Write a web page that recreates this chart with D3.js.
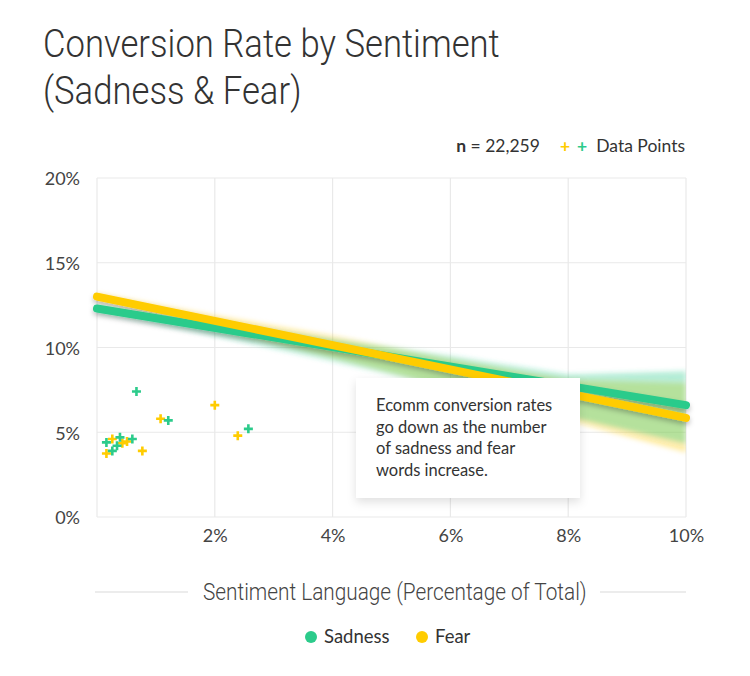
<!DOCTYPE html>
<html>
<head>
<meta charset="utf-8">
<script src="https://cdn.jsdelivr.net/npm/d3@7"></script>
<style>
  body { margin: 0; background: #fff; }
  text { font-family: Lato, "Noto Sans", sans-serif; fill: #333; }
  .grid line { stroke: #e9e9e9; stroke-width: 1.2; }
  .tick-label { font-size: 18px; fill: #444; }
</style>
</head>
<body>
<script>
// data
var xTicks = [2, 4, 6, 8, 10];
var yTicks = [0, 5, 10, 15, 20];

var sadnessPoints = [[0.67, 7.4], [1.21, 5.7], [2.57, 5.2], [0.16, 4.4], [0.39, 4.7], [0.60, 4.6], [0.34, 4.2], [0.26, 3.9]];
var fearPoints = [[2.0, 6.6], [1.08, 5.8], [2.39, 4.8], [0.26, 4.6], [0.51, 4.45], [0.43, 4.35], [0.16, 3.75], [0.77, 3.9]];

// trend lines (start / end)
var sadnessTrend = [[0, 12.3], [10, 6.6]];
var fearTrend = [[0, 13.0], [10, 5.85]];

// confidence bands: x, low, high
var sadnessBand = [[0, 12.1, 12.5], [2, 10.7, 11.5], [4, 9.2, 10.5], [6, 7.6, 9.5], [8, 5.9, 8.4], [10, 4.3, 8.6]];
var fearBand = [[0, 12.8, 13.2], [2, 11.1, 11.9], [4, 9.4, 10.7], [6, 7.6, 9.3], [8, 5.7, 8.1], [10, 3.8, 7.9]];

var colSad = "#2ccb8b", colFear = "#ffcc00";

var W = 750, H = 676;
var margin = {top: 178, left: 97, right: 64, bottom: 159};
var width = W - margin.left - margin.right,
    height = H - margin.top - margin.bottom;

var svg = d3.select("body").append("svg")
    .attr("width", W).attr("height", H);

var defs = svg.append("defs");
defs.append("clipPath").attr("id", "plotclip")
    .append("rect").attr("x", 0).attr("y", 0).attr("width", width).attr("height", height);
defs.append("filter").attr("id", "blur")
    .attr("x", "-10%").attr("y", "-50%").attr("width", "120%").attr("height", "200%")
    .append("feGaussianBlur").attr("stdDeviation", 2.5);
var sh = defs.append("filter").attr("id", "shadow")
    .attr("x", "-10%").attr("y", "-50%").attr("width", "120%").attr("height", "200%");
sh.append("feDropShadow").attr("dx", 0).attr("dy", 3).attr("stdDeviation", 2.5)
    .attr("flood-color", "#000").attr("flood-opacity", 0.25);
var boxSh = defs.append("filter").attr("id", "boxshadow")
    .attr("x", "-20%").attr("y", "-20%").attr("width", "140%").attr("height", "150%");
boxSh.append("feDropShadow").attr("dx", 0).attr("dy", 4).attr("stdDeviation", 5)
    .attr("flood-color", "#000").attr("flood-opacity", 0.12);

// title
var title = svg.append("g").attr("transform", "translate(43,0)");
var t1 = title.append("text").attr("x", 0).attr("y", 57)
    .style("font-family", "Roboto").style("font-weight", 300).style("font-size", "38px")
    .style("fill", "#333").text("Conversion Rate by Sentiment");
var t2 = title.append("text").attr("x", 0).attr("y", 104)
    .style("font-family", "Roboto").style("font-weight", 300).style("font-size", "38px")
    .style("fill", "#333").text("(Sadness & Fear)");
var k = 457 / t1.node().getComputedTextLength();
t1.attr("transform", "scale(" + k + ",1)");
t2.attr("transform", "scale(" + k + ",1)");

// n = ... header
var hdr = svg.append("text").attr("x", 685).attr("y", 152)
    .attr("text-anchor", "end").style("font-size", "17.5px");
hdr.append("tspan").style("font-weight", 700).text("n");
hdr.append("tspan").text(" = 22,259");
hdr.append("tspan").attr("dx", 20).style("fill", colFear).style("font-weight", 700).text("+");
hdr.append("tspan").attr("dx", 7).style("fill", colSad).style("font-weight", 700).text("+");
hdr.append("tspan").attr("dx", 9).text("Data Points");

var g = svg.append("g").attr("transform", "translate(" + margin.left + "," + margin.top + ")");

var x = d3.scaleLinear().domain([0, 10]).range([0, width]);
var y = d3.scaleLinear().domain([0, 20]).range([height, 0]);

// gridlines
var grid = g.append("g").attr("class", "grid");
grid.selectAll(".h").data(yTicks).enter().append("line")
    .attr("x1", 0).attr("x2", width)
    .attr("y1", d => y(d)).attr("y2", d => y(d));
grid.selectAll(".v").data([0].concat(xTicks)).enter().append("line")
    .attr("y1", 0).attr("y2", height)
    .attr("x1", d => x(d)).attr("x2", d => x(d));

// axes (labels only)
var yAxis = g.append("g").call(d3.axisLeft(y).tickValues(yTicks).tickFormat(d => d + "%").tickSize(0).tickPadding(17));
yAxis.select(".domain").remove();
yAxis.selectAll("text").attr("class", "tick-label").attr("dy", "0.38em")
    .style("font-family", "Lato").style("font-size", "18px");

var xAxis = g.append("g").attr("transform", "translate(0," + height + ")")
    .call(d3.axisBottom(x).tickValues(xTicks).tickFormat(d => d + "%").tickSize(0).tickPadding(12));
xAxis.select(".domain").remove();
xAxis.selectAll("text").attr("class", "tick-label")
    .style("font-family", "Lato").style("font-size", "18px");

// confidence bands
var area = d3.area()
    .x(d => x(d[0]))
    .y0(d => y(d[1]))
    .y1(d => y(d[2]));
var bands = g.append("g").attr("clip-path", "url(#plotclip)")
    .append("g").attr("filter", "url(#blur)");
bands.append("path").datum(fearBand).attr("d", area)
    .attr("fill", colFear).attr("fill-opacity", 0.35);
bands.append("path").datum(sadnessBand).attr("d", area)
    .attr("fill", colSad).attr("fill-opacity", 0.35);

// trend lines
var line = d3.line().x(d => x(d[0])).y(d => y(d[1]));
var lines = g.append("g").attr("filter", "url(#shadow)");
lines.append("path").datum(sadnessTrend).attr("d", line)
    .attr("stroke", colSad).attr("stroke-width", 8).attr("stroke-linecap", "round").attr("fill", "none");
lines.append("path").datum(fearTrend).attr("d", line)
    .attr("stroke", colFear).attr("stroke-width", 8).attr("stroke-linecap", "round").attr("fill", "none");

// data points
var plus = "M-4.5,0H4.5M0,-4.5V4.5";
g.selectAll(".pf").data(fearPoints).enter().append("path")
    .attr("d", plus).attr("transform", d => "translate(" + x(d[0]) + "," + y(d[1]) + ")")
    .attr("stroke", colFear).attr("stroke-width", 2.6).attr("fill", "none");
g.selectAll(".ps").data(sadnessPoints).enter().append("path")
    .attr("d", plus).attr("transform", d => "translate(" + x(d[0]) + "," + y(d[1]) + ")")
    .attr("stroke", colSad).attr("stroke-width", 2.6).attr("fill", "none");

// annotation box
var note = svg.append("g").attr("transform", "translate(356,378)");
note.append("rect").attr("width", 224).attr("height", 120)
    .attr("fill", "#fff").attr("filter", "url(#boxshadow)");
var noteLines = ["Ecomm conversion rates", "go down as the number", "of sadness and fear", "words increase."];
note.selectAll("text").data(noteLines).enter().append("text")
    .attr("x", 20).attr("y", (d, i) => 33 + i * 21.5)
    .style("font-size", "16.5px").style("fill", "#333").text(d => d);

// x axis title with side rules
svg.append("line").attr("x1", 95).attr("x2", 188).attr("y1", 592).attr("y2", 592)
    .attr("stroke", "#e6e6e6").attr("stroke-width", 1.5);
svg.append("line").attr("x1", 600).attr("x2", 686).attr("y1", 592).attr("y2", 592)
    .attr("stroke", "#e6e6e6").attr("stroke-width", 1.5);
var xt = svg.append("text").attr("x", 0).attr("y", 600)
    .style("font-family", "Roboto").style("font-weight", 300).style("font-size", "23px")
    .style("fill", "#444").text("Sentiment Language (Percentage of Total)");
var xk = 384 / xt.node().getComputedTextLength();
xt.attr("transform", "translate(203,0) scale(" + xk + ",1)");

// legend
var legend = svg.append("g").attr("transform", "translate(0,637)");
var legItems = [["Sadness", colSad, 311], ["Fear", colFear, 422]];
legItems.forEach(function(d) {
  legend.append("circle").attr("cx", d[2]).attr("cy", 0).attr("r", 6).attr("fill", d[1]);
  legend.append("text").attr("x", d[2] + 13).attr("y", 6)
      .style("font-size", "18.5px").style("fill", "#333").text(d[0]);
});
</script>
</body>
</html>
